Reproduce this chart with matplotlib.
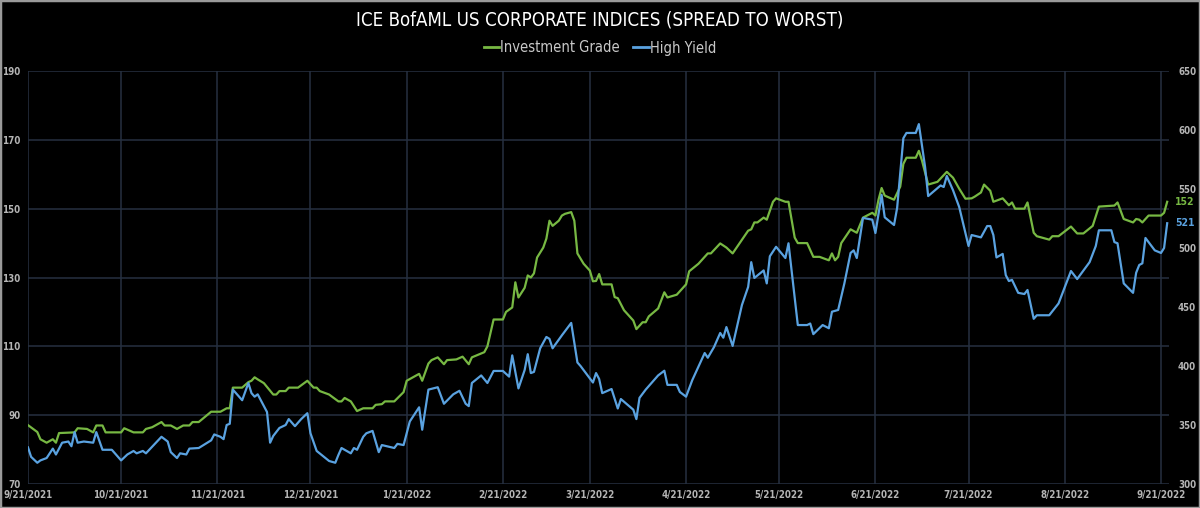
import matplotlib
matplotlib.use("Agg")
import matplotlib.pyplot as plt
import pandas as pd
from matplotlib.lines import Line2D
from matplotlib.patches import Rectangle

title = "ICE BofAML US CORPORATE INDICES (SPREAD TO WORST)"
series_names = ["Investment Grade", "High Yield"]

ig_dates = [
    "2021-09-21", "2021-09-24", "2021-09-25", "2021-09-27", "2021-09-29", "2021-09-30",
    "2021-10-01", "2021-10-06", "2021-10-07", "2021-10-10", "2021-10-12", "2021-10-13",
    "2021-10-15", "2021-10-16", "2021-10-21", "2021-10-22", "2021-10-25", "2021-10-28",
    "2021-10-29", "2021-10-31", "2021-11-03", "2021-11-04", "2021-11-06", "2021-11-08",
    "2021-11-10", "2021-11-12", "2021-11-13", "2021-11-15", "2021-11-19", "2021-11-22",
    "2021-11-24", "2021-11-25", "2021-11-26", "2021-11-29", "2021-12-01", "2021-12-02",
    "2021-12-03", "2021-12-04", "2021-12-06", "2021-12-09", "2021-12-10", "2021-12-11",
    "2021-12-13", "2021-12-14", "2021-12-17", "2021-12-20", "2021-12-22", "2021-12-23",
    "2021-12-24", "2021-12-27", "2021-12-30", "2021-12-31", "2022-01-01", "2022-01-03",
    "2022-01-05", "2022-01-07", "2022-01-10", "2022-01-11", "2022-01-13", "2022-01-14",
    "2022-01-17", "2022-01-20", "2022-01-21", "2022-01-25", "2022-01-26", "2022-01-28",
    "2022-01-29", "2022-01-31", "2022-02-02", "2022-02-03", "2022-02-06", "2022-02-08",
    "2022-02-10", "2022-02-11", "2022-02-15", "2022-02-16", "2022-02-18", "2022-02-21",
    "2022-02-22", "2022-02-24", "2022-02-25", "2022-02-26", "2022-02-28", "2022-03-01",
    "2022-03-02", "2022-03-03", "2022-03-04", "2022-03-06", "2022-03-07", "2022-03-08",
    "2022-03-09", "2022-03-11", "2022-03-12", "2022-03-13", "2022-03-15", "2022-03-16",
    "2022-03-17", "2022-03-19", "2022-03-21", "2022-03-22", "2022-03-23", "2022-03-24",
    "2022-03-25", "2022-03-28", "2022-03-29", "2022-03-30", "2022-04-01", "2022-04-04",
    "2022-04-05", "2022-04-07", "2022-04-08", "2022-04-09", "2022-04-12", "2022-04-14",
    "2022-04-15", "2022-04-18", "2022-04-21", "2022-04-22", "2022-04-25", "2022-04-28",
    "2022-04-29", "2022-05-02", "2022-05-04", "2022-05-06", "2022-05-11", "2022-05-12",
    "2022-05-13", "2022-05-14", "2022-05-16", "2022-05-17", "2022-05-19", "2022-05-20",
    "2022-05-23", "2022-05-24", "2022-05-26", "2022-05-27", "2022-05-30", "2022-06-01",
    "2022-06-03", "2022-06-06", "2022-06-07", "2022-06-08", "2022-06-09", "2022-06-10",
    "2022-06-13", "2022-06-15", "2022-06-17", "2022-06-20", "2022-06-21", "2022-06-22",
    "2022-06-23", "2022-06-24", "2022-06-27", "2022-06-29", "2022-06-30", "2022-07-01",
    "2022-07-04", "2022-07-05", "2022-07-06", "2022-07-08", "2022-07-11", "2022-07-14",
    "2022-07-16", "2022-07-18", "2022-07-20", "2022-07-22", "2022-07-23", "2022-07-25",
    "2022-07-26", "2022-07-28", "2022-07-29", "2022-08-01", "2022-08-03", "2022-08-04",
    "2022-08-05", "2022-08-08", "2022-08-09", "2022-08-11", "2022-08-12", "2022-08-16",
    "2022-08-17", "2022-08-19", "2022-08-23", "2022-08-25", "2022-08-27", "2022-08-30",
    "2022-09-01", "2022-09-06", "2022-09-07", "2022-09-09", "2022-09-12", "2022-09-13",
    "2022-09-14", "2022-09-15", "2022-09-17", "2022-09-21", "2022-09-22", "2022-09-23",
]
ig_values = [
    87.1, 85.1, 83, 82, 83, 82,
    84.8, 85, 86.2, 86, 85, 87,
    87, 85, 85, 86.2, 85, 85,
    86, 86.5, 88, 87, 87, 86,
    87, 87, 88, 88, 91, 91,
    92, 92, 98, 98, 99.6, 100,
    101, 100.4, 99.3, 96, 96, 97,
    97, 98, 98, 100, 98, 98,
    97, 96, 94, 94, 95, 94,
    91.2, 92, 92, 93, 93.2, 94,
    94, 96.7, 100, 102, 100, 105,
    106, 106.8, 104.8, 106, 106.2, 107,
    104.8, 106.8, 108.3, 110, 117.8, 117.8,
    120, 121.3, 128.6, 124.2, 127, 130.6,
    130, 131.2, 135.8, 138.7, 141.3, 146.5,
    145, 146.5, 148, 148.5, 149, 146.5,
    137, 134, 132, 128.9, 129, 131,
    128, 128, 124.3, 124, 120.5, 117.5,
    115, 117, 117, 118.7, 121, 125.7,
    124.2, 125, 128, 131.8, 134, 137,
    137, 139.9, 138.7, 137, 143.6, 144,
    146, 146, 147.4, 146.8, 152, 153,
    152, 152, 141.6, 140, 140, 136,
    136, 135, 137, 135, 136, 140,
    144, 143, 147.4, 148.8, 148, 152.6,
    156, 153.8, 152.6, 156.4, 163, 164.8,
    164.8, 166.8, 164, 157, 157.8, 160.7,
    159, 155.8, 152.9, 153, 153.5, 154.7,
    157, 155.2, 152, 153, 151, 151.8,
    150, 150, 151.8, 143, 142, 141,
    142, 142, 144.8, 142.8, 142.8, 145,
    150.6, 150.9, 151.8, 147, 146, 147,
    146.8, 146, 148, 148, 148.8, 152,
]

hy_dates = [
    "2021-09-21", "2021-09-22", "2021-09-24", "2021-09-25", "2021-09-27", "2021-09-29",
    "2021-09-30", "2021-10-02", "2021-10-04", "2021-10-05", "2021-10-06", "2021-10-07",
    "2021-10-09", "2021-10-12", "2021-10-13", "2021-10-15", "2021-10-18", "2021-10-21",
    "2021-10-23", "2021-10-25", "2021-10-26", "2021-10-28", "2021-10-29", "2021-11-03",
    "2021-11-05", "2021-11-06", "2021-11-08", "2021-11-09", "2021-11-11", "2021-11-12",
    "2021-11-15", "2021-11-19", "2021-11-20", "2021-11-22", "2021-11-23", "2021-11-24",
    "2021-11-25", "2021-11-26", "2021-11-29", "2021-12-01", "2021-12-02", "2021-12-03",
    "2021-12-04", "2021-12-07", "2021-12-08", "2021-12-09", "2021-12-11", "2021-12-13",
    "2021-12-14", "2021-12-16", "2021-12-18", "2021-12-20", "2021-12-21", "2021-12-23",
    "2021-12-27", "2021-12-29", "2021-12-30", "2021-12-31", "2022-01-03", "2022-01-04",
    "2022-01-05", "2022-01-07", "2022-01-08", "2022-01-10", "2022-01-12", "2022-01-13",
    "2022-01-17", "2022-01-18", "2022-01-20", "2022-01-22", "2022-01-25", "2022-01-26",
    "2022-01-28", "2022-01-31", "2022-02-02", "2022-02-05", "2022-02-07", "2022-02-09",
    "2022-02-10", "2022-02-11", "2022-02-14", "2022-02-16", "2022-02-18", "2022-02-21",
    "2022-02-23", "2022-02-24", "2022-02-26", "2022-02-28", "2022-03-01", "2022-03-02",
    "2022-03-03", "2022-03-05", "2022-03-07", "2022-03-08", "2022-03-09", "2022-03-12",
    "2022-03-15", "2022-03-17", "2022-03-18", "2022-03-22", "2022-03-23", "2022-03-24",
    "2022-03-25", "2022-03-28", "2022-03-30", "2022-03-31", "2022-04-04", "2022-04-05",
    "2022-04-06", "2022-04-08", "2022-04-12", "2022-04-14", "2022-04-15", "2022-04-18",
    "2022-04-19", "2022-04-21", "2022-04-23", "2022-04-27", "2022-04-28", "2022-04-30",
    "2022-05-02", "2022-05-03", "2022-05-04", "2022-05-06", "2022-05-09", "2022-05-11",
    "2022-05-12", "2022-05-13", "2022-05-16", "2022-05-17", "2022-05-18", "2022-05-20",
    "2022-05-23", "2022-05-24", "2022-05-27", "2022-05-30", "2022-05-31", "2022-06-01",
    "2022-06-04", "2022-06-06", "2022-06-07", "2022-06-09", "2022-06-11", "2022-06-13",
    "2022-06-14", "2022-06-15", "2022-06-17", "2022-06-20", "2022-06-21", "2022-06-23",
    "2022-06-24", "2022-06-27", "2022-06-28", "2022-06-30", "2022-07-01", "2022-07-04",
    "2022-07-05", "2022-07-07", "2022-07-08", "2022-07-12", "2022-07-13", "2022-07-14",
    "2022-07-16", "2022-07-18", "2022-07-21", "2022-07-22", "2022-07-25", "2022-07-27",
    "2022-07-28", "2022-07-29", "2022-07-30", "2022-08-01", "2022-08-02", "2022-08-03",
    "2022-08-04", "2022-08-06", "2022-08-08", "2022-08-09", "2022-08-11", "2022-08-12",
    "2022-08-16", "2022-08-19", "2022-08-23", "2022-08-25", "2022-08-29", "2022-08-31",
    "2022-09-01", "2022-09-05", "2022-09-06", "2022-09-07", "2022-09-09", "2022-09-12",
    "2022-09-13", "2022-09-14", "2022-09-15", "2022-09-16", "2022-09-19", "2022-09-21",
    "2022-09-22", "2022-09-23",
]
hy_values = [
    331, 323, 318, 320, 322, 330,
    325, 335, 336, 332, 344, 335,
    336, 335, 344, 329, 329, 320,
    325, 328, 326, 328, 326, 340,
    336, 327, 322, 326, 325, 330,
    330.5, 337, 342, 340, 338, 350,
    351, 380, 371, 385.6, 377, 374,
    376, 361, 335, 340.7, 347.5, 350,
    355, 349, 355, 360, 343, 328,
    319.5, 318, 324.6, 330.5, 326, 330.5,
    329, 340, 343, 345, 327, 333,
    330.5, 334, 333, 353, 365, 346,
    380, 382, 368, 376, 379, 368,
    366, 385.6, 392, 385.6, 395.8, 395.8,
    391, 409, 381, 396.6, 410, 394,
    395, 415, 424.6, 423, 415, 426,
    436.5, 403, 400, 386, 394, 389,
    377, 380.5, 364, 372, 363, 355,
    373, 380, 392, 396, 384, 384,
    378, 374, 388, 411, 407, 416,
    428, 424, 433, 417, 451.7, 467,
    488, 474.6, 481, 470, 493, 501,
    491.5, 504, 434.7, 434.7, 436, 427,
    434.7, 432, 446, 447.5, 470, 495.8,
    498, 491.5, 525.5, 524, 512.7, 545,
    526, 519.5, 534, 593, 597.5, 597.5,
    605, 568.7, 544, 553, 551.7, 561,
    549, 534.7, 501.7, 511, 509, 518.6,
    518.6, 511, 492, 495, 477, 472,
    473, 462, 461, 464.4, 440, 443,
    443, 453, 480.5, 473.7, 488, 501.7,
    515, 515, 505, 504, 470, 462,
    479, 485.6, 487, 508.5, 498, 495.8,
    500, 521,
]

x_tick_dates = [
    "2021-09-21", "2021-10-21", "2021-11-21", "2021-12-21", "2022-01-21", "2022-02-21",
    "2022-03-21", "2022-04-21", "2022-05-21", "2022-06-21", "2022-07-21", "2022-08-21",
    "2022-09-21",
]
x_tick_labels = [
    "9/21/2021", "10/21/2021", "11/21/2021", "12/21/2021", "1/21/2022", "2/21/2022",
    "3/21/2022", "4/21/2022", "5/21/2022", "6/21/2022", "7/21/2022", "8/21/2022",
    "9/21/2022",
]
left_ticks = [70, 90, 110, 130, 150, 170, 190]
right_ticks = [300, 350, 400, 450, 500, 550, 600, 650]
x_start = "2021-09-21"
x_end = "2022-09-23 14:00"

IG_COLOR = "#77b843"
HY_COLOR = "#5aa2e0"
TICK_COLOR = "#b4b4b4"
GRID_COLOR = "#263040"
BG = "#000000"

plt.rcParams["font.family"] = ["DejaVu Sans"]
plt.rcParams["font.stretch"] = "condensed"

fig = plt.figure(figsize=(12, 5.08), dpi=100, facecolor=BG)
ax = fig.add_axes([28 / 1200, 24 / 508, 1141 / 1200, 413 / 508])
ax.set_facecolor(BG)
ax2 = ax.twinx()

ig_x = pd.to_datetime(ig_dates)
hy_x = pd.to_datetime(hy_dates)
ax.plot(ig_x, ig_values, color=IG_COLOR, lw=1.6, solid_joinstyle="round", zorder=3)
ax2.plot(hy_x, hy_values, color=HY_COLOR, lw=1.6, solid_joinstyle="round", zorder=3)

ax.set_xlim(pd.Timestamp(x_start), pd.Timestamp(x_end))
ax.set_ylim(left_ticks[0], left_ticks[-1])
ax2.set_ylim(right_ticks[0], right_ticks[-1])

ax.set_xticks(pd.to_datetime(x_tick_dates))
ax.set_xticklabels(x_tick_labels)
ax.set_yticks(left_ticks)
ax2.set_yticks(right_ticks)

ax.grid(True, color=GRID_COLOR, lw=1.1)
ax.set_axisbelow(True)
for a in (ax, ax2):
    for s in a.spines.values():
        s.set_visible(False)

ax.tick_params(axis="x", length=0, pad=4, labelsize=7, labelcolor=TICK_COLOR)
ax.tick_params(axis="y", length=0, pad=5.5, labelsize=7, labelcolor=TICK_COLOR)
ax2.tick_params(axis="y", length=0, pad=6.5, labelsize=7, labelcolor=TICK_COLOR)
for lab in ax.get_xticklabels() + ax.get_yticklabels() + ax2.get_yticklabels():
    lab.set_fontweight("bold")

ax.annotate(f"{ig_values[-1]:.0f}", xy=(1, ig_values[-1]), xycoords=("axes fraction", "data"),
            xytext=(4.5, 0), textcoords="offset points", va="center", ha="left",
            color=IG_COLOR, fontsize=7.5, fontweight="bold")
ax2.annotate(f"{hy_values[-1]:.0f}", xy=(1, hy_values[-1]), xycoords=("axes fraction", "data"),
             xytext=(4.5, 0), textcoords="offset points", va="center", ha="left",
             color=HY_COLOR, fontsize=7.5, fontweight="bold")

fig.text(0.5, 1 - 20 / 508, title, ha="center", va="center", color="white", fontsize=13.4)

handles = [Line2D([], [], color=IG_COLOR, lw=2), Line2D([], [], color=HY_COLOR, lw=2)]
leg = fig.legend(handles, series_names, loc="center", bbox_to_anchor=(0.5, 1 - 48 / 508),
                 ncol=2, frameon=False, fontsize=10.5, handlelength=1.05, handletextpad=0.1,
                 columnspacing=0.9)
for t in leg.get_texts():
    t.set_color("#c8c8c8")

fig.patches.append(Rectangle((0, 0), 1, 1, transform=fig.transFigure, fill=False,
                             edgecolor="#9a9a9a", lw=2.5, zorder=10))

fig.savefig("out.png", dpi=100, facecolor=BG)
